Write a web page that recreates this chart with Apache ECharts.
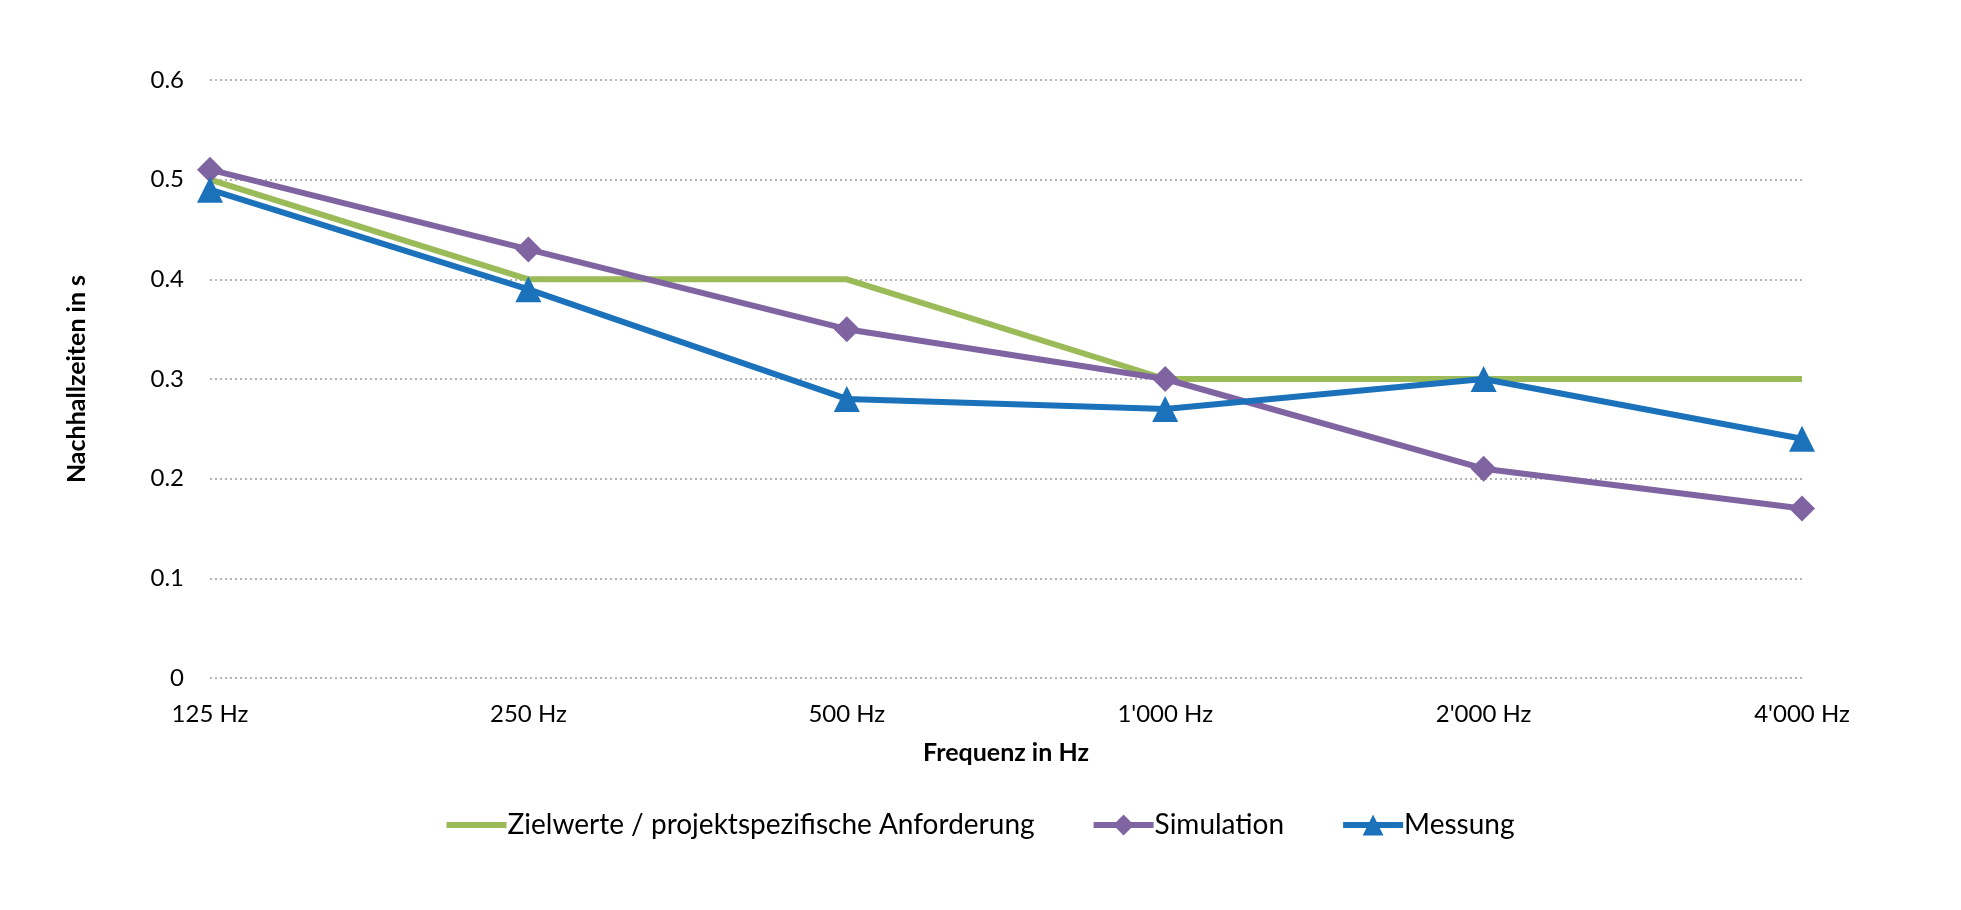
<!DOCTYPE html>
<html><head><meta charset="utf-8">
<script src="https://cdn.jsdelivr.net/npm/echarts@6/dist/echarts.min.js"></script>
<style>html,body{margin:0;padding:0;background:#fff}#c{width:1961px;height:910px}</style>
</head><body><div id="c"></div>
<script>
const categories = ["125 Hz", "250 Hz", "500 Hz", "1'000 Hz", "2'000 Hz", "4'000 Hz"];
const zielwerte = [0.5, 0.4, 0.4, 0.3, 0.3, 0.3];
const simulation = [0.51, 0.43, 0.35, 0.30, 0.21, 0.17];
const messung = [0.49, 0.39, 0.28, 0.27, 0.30, 0.24];
const seriesNames = ["Zielwerte / projektspezifische Anforderung", "Simulation", "Messung"];

const FONT = "Lato";
const chart = echarts.init(document.getElementById('c'));
chart.setOption({
  backgroundColor: '#fff',
  textStyle: { fontFamily: FONT },
  grid: { left: 210, right: 159, top: 80, bottom: 232 },
  xAxis: {
    type: 'category', data: categories, boundaryGap: false,
    axisLine: { show: false }, axisTick: { show: false },
    axisLabel: { color: '#000', fontSize: 24, margin: 24, fontFamily: FONT },
    name: 'Frequenz in Hz', nameLocation: 'middle', nameGap: 62,
    nameTextStyle: { color: '#000', fontSize: 25, fontWeight: 'bold', fontFamily: FONT }
  },
  yAxis: {
    type: 'value', min: 0, max: 0.6, interval: 0.1,
    axisLine: { show: false }, axisTick: { show: false },
    axisLabel: { color: '#000', fontSize: 24, margin: 26, fontFamily: FONT,
      formatter: v => (Math.round(v * 10) / 10).toString() },
    splitLine: { lineStyle: { color: '#999', type: [2, 3], width: 1.5 } },
    name: 'Nachhallzeiten in s', nameLocation: 'middle', nameGap: 121, nameRotate: 90,
    nameTextStyle: { color: '#000', fontSize: 25, fontWeight: 'bold', fontFamily: FONT }
  },
  legend: {
    bottom: 66, left: 'center', itemWidth: 60, itemHeight: 26, itemGap: 56,
    lineStyle: { width: 6 },
    textStyle: { color: '#000', fontSize: 28, fontFamily: FONT, padding: [0, 0, 0, -4] },
    data: [
      { name: seriesNames[0], icon: 'path://M0,10 H60 V16 H0 Z' },
      seriesNames[1], seriesNames[2]
    ]
  },
  series: [
    { name: seriesNames[0], type: 'line', data: zielwerte, symbol: 'none',
      lineStyle: { color: '#9BBB59', width: 6 }, itemStyle: { color: '#9BBB59' } },
    { name: seriesNames[1], type: 'line', data: simulation, symbol: 'diamond', symbolSize: 26,
      lineStyle: { color: '#8064A2', width: 6 }, itemStyle: { color: '#8064A2' } },
    { name: seriesNames[2], type: 'line', data: messung, symbol: 'triangle', symbolSize: 26,
      lineStyle: { color: '#1B72BA', width: 6 }, itemStyle: { color: '#1B72BA' } }
  ],
  animation: false
});
</script></body></html>
